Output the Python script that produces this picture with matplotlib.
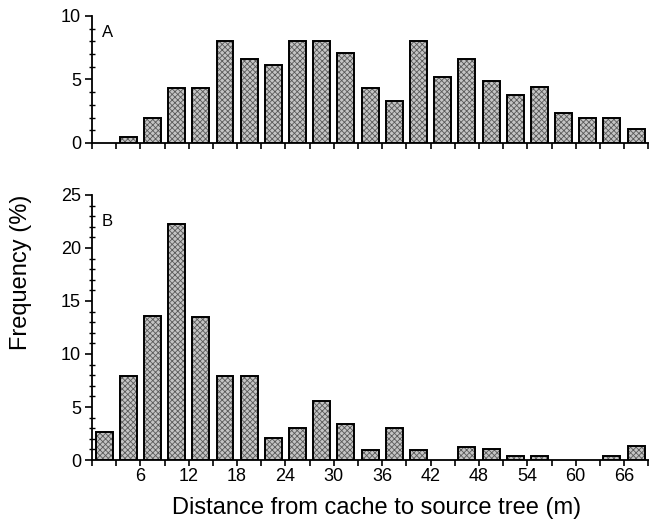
"""Two-panel frequency histogram: distance from cache to source tree (A and B)."""
import numpy as np
import matplotlib
matplotlib.use('Agg')
import matplotlib.pyplot as plt
from matplotlib.ticker import MultipleLocator, FixedLocator

# ── Data (3 m bins, 0..69 m) ─────────────────────────────────────────────────
BIN_START = np.arange(0, 69, 3)
FREQ_A = [0.0, 0.5, 2.0, 4.3, 4.3, 8.0, 6.6, 6.1, 8.0, 8.0, 7.1, 4.3,
          3.3, 8.0, 5.2, 6.6, 4.9, 3.8, 4.4, 2.4, 2.0, 2.0, 1.1]
FREQ_B = [2.6, 7.9, 13.6, 22.3, 13.5, 7.9, 7.9, 2.1, 3.0, 5.6, 3.4, 0.9,
          3.0, 0.9, 0.0, 1.2, 1.0, 0.4, 0.4, 0.0, 0.0, 0.4, 1.3]
XTICK_LABELS = [6, 12, 18, 24, 30, 36, 42, 48, 54, 60, 66]

BIN_W = 3
BAR_W = 2.1
FACE = '#c4c4c4'
HATCH_COL = '#5a5a5a'

plt.rcParams['font.family'] = ['Liberation Sans', 'DejaVu Sans']
plt.rcParams['hatch.linewidth'] = 0.6

fig = plt.figure(figsize=(6.49, 5.31), dpi=100)
ax_a = fig.add_axes([0.1418, 0.7307, 0.8595, 0.2393])
ax_b = fig.add_axes([0.1418, 0.1337, 0.8595, 0.4991])


def draw_panel(ax, freq, ymax, letter, show_labels):
    centers = BIN_START + BIN_W / 2
    vals = np.array(freq)
    keep = vals > 0
    # textured fill, then black outline on top
    plt.rcParams['hatch.color'] = HATCH_COL
    ax.bar(centers[keep], vals[keep], width=BAR_W, color=FACE,
           hatch='xxxxxx', edgecolor=HATCH_COL, linewidth=0, zorder=2)
    ax.bar(centers[keep], vals[keep], width=BAR_W, fill=False,
           edgecolor='black', linewidth=1.4, zorder=3)

    ax.set_xlim(0, 69.2)
    ax.set_ylim(0, ymax)
    for s in ('top', 'right'):
        ax.spines[s].set_visible(False)
    for s in ('left', 'bottom'):
        ax.spines[s].set_linewidth(1.3)

    ax.xaxis.set_major_locator(FixedLocator(np.arange(0, 70, 3)))
    if show_labels:
        ax.set_xticklabels(['' if t not in XTICK_LABELS else str(t)
                            for t in np.arange(0, 70, 3)])
    else:
        ax.set_xticklabels([])
    ax.tick_params(axis='x', direction='out', length=4, width=1.2,
                   labelsize=13, pad=2)
    ax.yaxis.set_major_locator(MultipleLocator(5))
    ax.yaxis.set_minor_locator(MultipleLocator(1))
    ax.tick_params(axis='y', which='major', direction='out', length=5,
                   width=1.2, labelsize=13, pad=3)
    ax.tick_params(axis='y', which='minor', direction='inout', length=4,
                   width=1.0)
    ax.text(1.2, ymax * 0.93, letter, ha='left', va='top', fontsize=12)


draw_panel(ax_a, FREQ_A, 10, 'A', show_labels=False)
draw_panel(ax_b, FREQ_B, 25, 'B', show_labels=True)

fig.text(0.032, 0.488, 'Frequency (%)', rotation=90, ha='center',
         va='center', fontsize=17)
fig.text(0.58, 0.043, 'Distance from cache to source tree (m)',
         ha='center', va='center', fontsize=17)

fig.savefig('out.png', dpi=100)
